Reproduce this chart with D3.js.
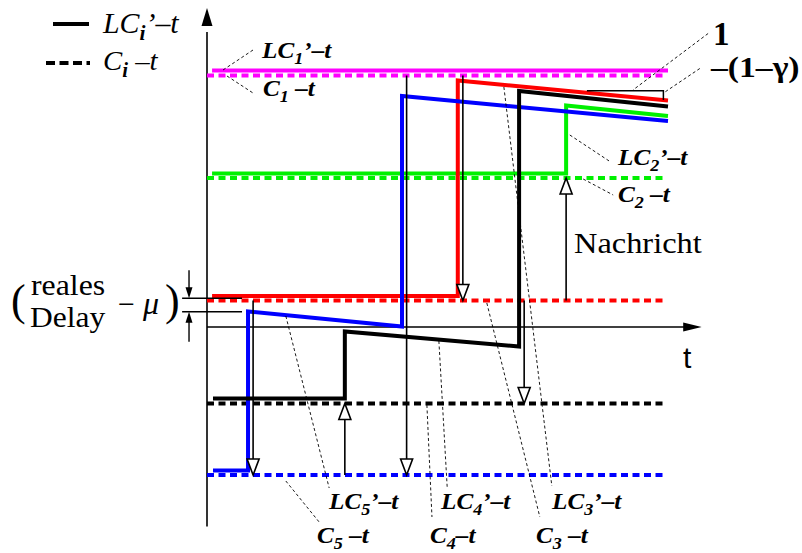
<!DOCTYPE html>
<html><head><meta charset="utf-8">
<script src="https://cdn.jsdelivr.net/npm/d3@7"></script>
<style>body{margin:0;background:#fff}svg{display:block}</style>
</head><body>
<svg id="c" width="802" height="553"></svg>
<script>
// ---------- data (time units 0..100, offset units) ----------
const clockIds    = [1, 2, 3, 4, 5];
const clockColors = ["#ff00ff", "#00f000", "#ff0000", "#000000", "#0000ff"];
const offsetLevels = [50.3, 29.8, 5.3, -15.3, -29.6];   // C_i - t
const dashedStart = 0, dashedEnd = 99;
// LC_i' - t  (piecewise)
const lc1 = [[1.1, 51.3], [100, 51.3]];
const lc2 = [[1.1, 30.7], [77.9, 30.7], [77.9, 44.3], [100, 42.2]];
const lc3 = [[1.1, 6.2], [54.4, 6.2], [54.4, 49.3], [100, 45.3]];
const lc4 = [[1.3, -14.3], [29.9, -14.3], [29.9, -0.9], [67.7, -3.9], [67.7, 47.2], [100, 44.1]];
const lc5 = [[1.3, -28.7], [8.9, -28.7], [8.9, 3.1], [42.3, 0.1], [42.3, 46.2], [100, 41.2]];
// messages ("Nachricht")
const msgTime = [10.0, 29.9, 43.3, 55.5, 68.8, 77.9];
const msgFrom = [3, 5, 1, 1, 3, 3];
const msgTo   = [5, 4, 5, 3, 4, 2];
// label texts: segments alternate normal | subscript
const lcLabels = [["LC", "1", "’–t"], ["LC", "2", "’–t"], ["LC", "3", "’–t"], ["LC", "4", "’–t"], ["LC", "5", "’–t"]];
const cLabels  = [["C", "1", " –t"], ["C", "2", " –t"], ["C", "3", " –t"], ["C", "4", "–t"], ["C", "5", " –t"]];
// leader lines [x1,y1,x2,y2] in data units
const lcLeaders = [[9.98, 55.4, 3.25, 51.26], [78.7, 38.4, 87.4, 33.1], [64.4, 48, 74.8, -31.8], [50.3, -2.8, 52.1, -32], [17.1, 2.2, 26.5, -32.2]];
const cLeaders  = [[4.34, 50.2, 9.98, 46.8], [81.6, 29.6, 88.1, 26.4], [60.7, 4.8, 72.2, -38], [47.7, -15.6, 48.8, -38], [17.1, -30.8, 24.5, -39.2]];
const slopeTri = {x0: 82.4, x1: 99.0, yTop: 47.26, yBot: 45.4};
const slopeLeaders = [[108.7, 58.7, 92.4, 47.4], [106.9, 51.7, 99.35, 47.0]];
const delayLevels = [5.74, 3.06];
const delayX = [-5.4, 7.6, -3.9];

// ---------- scales ----------
const x = d3.scaleLinear().domain([0, 100]).range([207, 668]);
const y = d3.scaleLinear().domain([0, 50]).range([327, 77]);
const svg = d3.select("#c");
const line = d3.line().x(d => x(d[0])).y(d => y(d[1]));
const serif = "'Liberation Serif','Times New Roman',serif";

// ---------- axes ----------
svg.append("line").attr("x1", x(0)).attr("x2", x(0)).attr("y1", y(-39.9)).attr("y2", y(59))
  .attr("stroke", "#000").attr("stroke-width", 1.6);
svg.append("path").attr("d", `M${x(0)},${y(63.8)} L${x(0)-5.5},${y(60.2)} L${x(0)+5.5},${y(60.2)} Z`).attr("fill", "#000");
svg.append("line").attr("x1", x(0)).attr("x2", x(104)).attr("y1", y(0)).attr("y2", y(0))
  .attr("stroke", "#000").attr("stroke-width", 1.6);
svg.append("path").attr("d", `M${x(107.3)},${y(0)} L${x(103.3)},${y(0)-4.6} L${x(103.3)},${y(0)+4.6} Z`).attr("fill", "#000");
svg.append("text").attr("x", 683).attr("y", 368).attr("font-family", "'Liberation Sans',Arial,sans-serif")
  .attr("font-size", 30).text("t");

// ---------- dashed C_i - t ----------
offsetLevels.forEach((v, i) => {
  svg.append("line").attr("x1", x(dashedStart)).attr("x2", x(dashedEnd)).attr("y1", y(v)).attr("y2", y(v))
    .attr("stroke", clockColors[i]).attr("stroke-width", 4).attr("stroke-dasharray", "7,4.5");
});

// ---------- solid LC_i' - t ----------
[lc1, lc2, lc3, lc5, lc4].forEach((s, k) => {
  const i = [0, 1, 2, 4, 3][k];
  svg.append("path").attr("d", line(s)).attr("fill", "none").attr("stroke", clockColors[i])
    .attr("stroke-width", 4).attr("stroke-linejoin", "miter");
});

// ---------- messages ----------
msgTime.forEach((t, k) => {
  const y0 = y(offsetLevels[msgFrom[k] - 1]), y1 = y(offsetLevels[msgTo[k] - 1]);
  const dir = y1 > y0 ? 1 : -1;
  const xx = x(t);
  svg.append("line").attr("x1", xx).attr("x2", xx).attr("y1", y0).attr("y2", y1 - dir * 15)
    .attr("stroke", "#000").attr("stroke-width", 1.6);
  svg.append("path").attr("d", `M${xx},${y1} L${xx-6},${y1 - dir*16} L${xx+6},${y1 - dir*16} Z`)
    .attr("fill", "#fff").attr("stroke", "#000").attr("stroke-width", 1.6).attr("stroke-linejoin", "miter");
});
svg.append("text").attr("transform", "translate(574,253) scale(1.08,1)").attr("font-family", serif)
  .attr("font-size", 30).text("Nachricht");

// ---------- rich text helper ----------
function rich(px, py, parts, size, weight, style, sx, subWeight) {
  const t = svg.append("text").attr("transform", `translate(${px},${py}) scale(${sx},1)`)
    .attr("font-family", serif).attr("font-size", size).attr("font-weight", weight).attr("font-style", style);
  let shift = 0;
  parts.forEach((p, j) => {
    const sub = j % 2 === 1;
    const ts = t.append("tspan").text(p);
    const target = sub ? size * 0.24 : 0;
    if (target !== shift) { ts.attr("dy", target - shift); shift = target; }
    if (sub) { ts.attr("font-size", size * 0.72); if (subWeight) ts.attr("font-weight", subWeight); }
  });
}

// ---------- leaders & labels ----------
[...lcLeaders, ...cLeaders, ...slopeLeaders].forEach(l => {
  svg.append("line").attr("x1", x(l[0])).attr("y1", y(l[1])).attr("x2", x(l[2])).attr("y2", y(l[3]))
    .attr("stroke", "#000").attr("stroke-width", 0.9).attr("stroke-dasharray", "3,2.5");
});
const lcPos = [[262, 58], [618, 165], [552, 509], [441, 509], [329, 509]];
const cPos  = [[263, 96], [618, 202], [536, 543], [430, 543], [317, 543]];
clockIds.forEach((id, i) => {
  rich(lcPos[i][0], lcPos[i][1], lcLabels[i], 24, "bold", "italic", 1.05);
  rich(cPos[i][0], cPos[i][1], cLabels[i], 24, "bold", "italic", 1.05);
});

// slope triangle
svg.append("path").attr("d", `M${x(slopeTri.x0)},${y(slopeTri.yTop)} L${x(slopeTri.x1)},${y(slopeTri.yTop)} L${x(slopeTri.x1)},${y(slopeTri.yBot)}`)
  .attr("fill", "none").attr("stroke", "#000").attr("stroke-width", 1.5);
svg.append("text").attr("x", 713).attr("y", 45).attr("font-family", serif).attr("font-size", 33).attr("font-weight", "bold").text("1");
svg.append("text").attr("transform", "translate(711,77) scale(1.16,1)").attr("font-family", serif).attr("font-size", 29).attr("font-weight", "bold").text("–(1–γ)");

// ---------- legend ----------
svg.append("line").attr("x1", 53).attr("x2", 89).attr("y1", 24).attr("y2", 24).attr("stroke", "#000").attr("stroke-width", 4);
svg.append("line").attr("x1", 46).attr("x2", 90).attr("y1", 63).attr("y2", 63).attr("stroke", "#000").attr("stroke-width", 4).attr("stroke-dasharray", "9,4.5");
rich(103, 33, ["LC", "i", "’–t"], 29, "normal", "italic", 1.03, "bold");
rich(103, 70, ["C", "i", " –t"], 28, "normal", "italic", 1.03, "bold");

// ---------- delay annotation ----------
delayLevels.forEach(v => {
  svg.append("line").attr("x1", x(delayX[0])).attr("x2", x(delayX[1])).attr("y1", y(v)).attr("y2", y(v))
    .attr("stroke", "#000").attr("stroke-width", 1.4);
});
{
  const ax = x(delayX[2]);
  const yt = y(delayLevels[0]), yb = y(delayLevels[1]);
  svg.append("line").attr("x1", ax).attr("x2", ax).attr("y1", yt - 28).attr("y2", yt - 8).attr("stroke", "#000").attr("stroke-width", 1.4);
  svg.append("path").attr("d", `M${ax},${yt} L${ax-3.5},${yt-11} L${ax+3.5},${yt-11} Z`).attr("fill", "#000");
  svg.append("line").attr("x1", ax).attr("x2", ax).attr("y1", yb + 30).attr("y2", yb + 8).attr("stroke", "#000").attr("stroke-width", 1.4);
  svg.append("path").attr("d", `M${ax},${yb} L${ax-3.5},${yb+11} L${ax+3.5},${yb+11} Z`).attr("fill", "#000");
}
svg.append("text").attr("x", 11).attr("y", 315).attr("font-family", serif).attr("font-size", 44).text("(");
svg.append("text").attr("transform", "translate(31,295) scale(1.06,1)").attr("font-family", serif).attr("font-size", 30).text("reales");
svg.append("text").attr("transform", "translate(30,327) scale(1.05,1)").attr("font-family", serif).attr("font-size", 30).text("Delay");
svg.append("text").attr("x", 118).attr("y", 314).attr("font-family", serif).attr("font-size", 30).text("−");
svg.append("text").attr("x", 143).attr("y", 314).attr("font-family", serif).attr("font-size", 32).attr("font-style", "italic").text("μ");
svg.append("text").attr("x", 165).attr("y", 315).attr("font-family", serif).attr("font-size", 44).text(")");
</script>
</body></html>
